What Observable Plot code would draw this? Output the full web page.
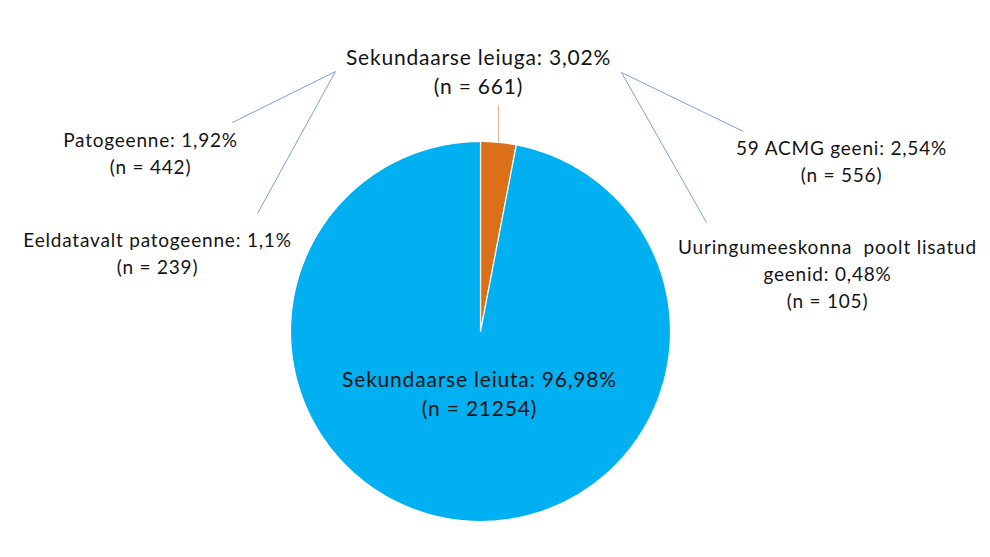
<!DOCTYPE html>
<html><head><meta charset="utf-8">
<script src="https://cdn.jsdelivr.net/npm/d3@7"></script>
<script src="https://cdn.jsdelivr.net/npm/@observablehq/plot@0.6"></script>
<style>html,body{margin:0;padding:0;background:#fff;} svg text{letter-spacing:0.8px;}</style>
</head><body><div id="chart"></div>
<script>
// ---- data ----
const categories = ["Sekundaarse leiuga", "Sekundaarse leiuta"];
const percents = [3.02, 96.98];
const counts = [661, 21254];
const subCategories = ["Patogeenne", "Eeldatavalt patogeenne", "59 ACMG geeni", "Uuringumeeskonna poolt lisatud geenid"];
const subPercents = [1.92, 1.1, 2.54, 0.48];
const subCounts = [442, 239, 556, 105];

// ---- layout ----
const W = 990, H = 557;
const cx = 480, cy = 331, R = 190;
const colors = ["#dc7019", "#00b0f0"];
const fmt = p => String(p).replace(".", ",") + "%";

const pie = d3.pie().sort(null).value(d => d.p)(categories.map((c, i) => ({c, p: percents[i]})));
const poly = [];
pie.forEach(s => {
  const n = Math.max(4, Math.ceil((s.endAngle - s.startAngle) * 60));
  poly.push({c: s.data.c, x: cx, y: cy});
  for (let k = 0; k <= n; k++) {
    const a = s.startAngle + (s.endAngle - s.startAngle) * k / n;
    poly.push({c: s.data.c, x: cx + R * Math.sin(a), y: cy - R * Math.cos(a)});
  }
  poly.push({c: s.data.c, x: cx, y: cy});
});

// label anchors (x center, y = baseline of last line)
const mainLabels = [
  {text: `${categories[0]}: ${fmt(percents[0])}\n(n = ${counts[0]})`, x: 478, y: 93},
  {text: `${categories[1]}: ${fmt(percents[1])}\n(n = ${counts[1]})`, x: 479, y: 415}
];
const subPos = [{x: 150, y: 173}, {x: 157, y: 273}, {x: 841, y: 181}, {x: 827, y: 307}];
const subLabels = subCategories.map((c, i) => {
  const t = i === 3
    ? `Uuringumeeskonna\u00a0 poolt lisatud\ngeenid: ${fmt(subPercents[i])}\n(n = ${subCounts[i]})`
    : `${c}: ${fmt(subPercents[i])}\n(n = ${subCounts[i]})`;
  return {text: t, ...subPos[i]};
});
const leaders = [
  {x1: 335, y1: 71, x2: 232, y2: 122},
  {x1: 335, y1: 71, x2: 257, y2: 213},
  {x1: 621, y1: 72, x2: 743, y2: 131},
  {x1: 621, y1: 72, x2: 706, y2: 222}
];
const midA = (pie[0].startAngle + pie[0].endAngle) / 2;
const sliceLeader = [{x1: cx + R * Math.sin(midA), y1: cy - R * Math.cos(midA), x2: cx + R * Math.sin(midA), y2: 105}];

const chart = Plot.plot({
  width: W, height: H,
  margin: 0,
  x: {domain: [0, W], range: [0, W], axis: null},
  y: {domain: [0, H], range: [0, H], axis: null},
  color: {domain: categories, range: colors},
  style: {background: "#fff", fontFamily: "Lato, sans-serif"},
  marks: [
    Plot.line(poly, {x: "x", y: "y", z: "c", fill: "c", stroke: "#fff", strokeWidth: 1.2, curve: "linear-closed"}),
    Plot.link(sliceLeader, {x1: "x1", y1: "y1", x2: "x2", y2: "y2", stroke: "#eeb48c", strokeWidth: 1}),
    Plot.link(leaders, {x1: "x1", y1: "y1", x2: "x2", y2: "y2", stroke: "#7f9fd9", strokeWidth: 1}),
    Plot.text(mainLabels, {x: "x", y: "y", text: "text", fontSize: 21, lineAnchor: "bottom", lineHeight: 1.35, fill: "#141414"}),
    Plot.text(subLabels, {x: "x", y: "y", text: "text", fontSize: 19, lineAnchor: "bottom", lineHeight: 1.4, fill: "#141414"})
  ]
});
document.getElementById("chart").append(chart);
</script></body></html>
